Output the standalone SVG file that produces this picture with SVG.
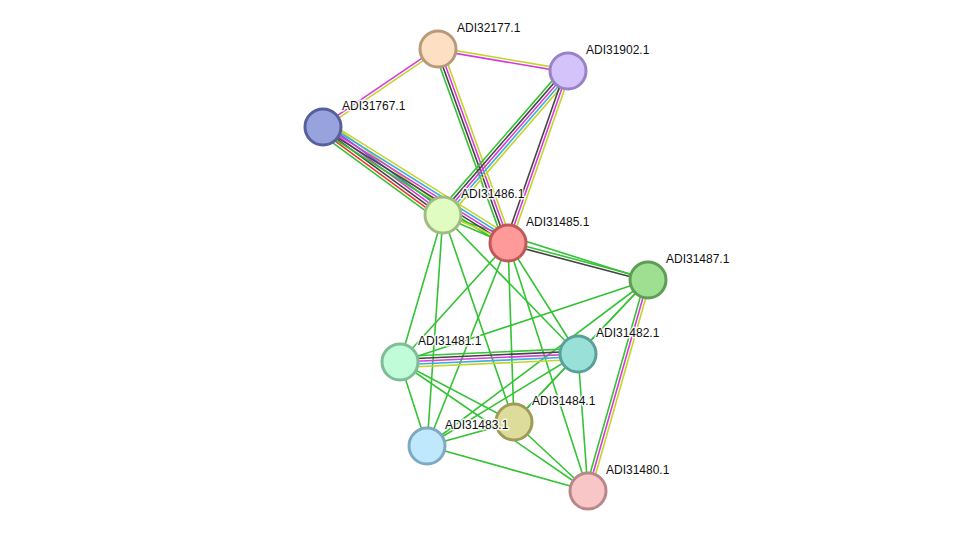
<svg xmlns="http://www.w3.org/2000/svg" width="976" height="537" viewBox="0 0 976 537">
<style>
line{stroke-width:1.6;fill:none;vector-effect:non-scaling-stroke}
.g{stroke:#34c334}.k{stroke:#444}.m{stroke:#d93ad9}.c{stroke:#3bb0e0}.y{stroke:#c5d42a}.r{stroke:#f03434}.b{stroke:#4a72d6}
circle{stroke-width:3}
text{font-family:"Liberation Sans",Arial,sans-serif;font-size:12px;fill:#111;stroke:#fff;stroke-width:3;stroke-opacity:0.85;paint-order:stroke;stroke-linejoin:round}
</style>
<rect width="976" height="537" fill="#fff"/>
<g id="connectors">
<line class="g" x1="443" y1="215" x2="400" y2="362"/>
<line class="g" x1="443" y1="215" x2="427" y2="446"/>
<line class="g" x1="443" y1="215" x2="514" y2="422"/>
<line class="g" x1="443" y1="215" x2="578" y2="354"/>
<line class="g" x1="443" y1="215" x2="648" y2="280"/>
<line class="g" x1="508" y1="243" x2="400" y2="362"/>
<line class="g" x1="508" y1="243" x2="427" y2="446"/>
<line class="g" x1="508" y1="243" x2="514" y2="422"/>
<line class="g" x1="508" y1="243" x2="578" y2="354"/>
<line class="g" x1="508" y1="243" x2="588" y2="491"/>
<line class="g" x1="648" y1="280" x2="400" y2="362"/>
<line class="g" x1="648" y1="280" x2="578" y2="354"/>
<line class="g" x1="648" y1="280" x2="514" y2="422"/>
<line class="g" x1="648" y1="280" x2="427" y2="446"/>
<line class="g" x1="578" y1="354" x2="514" y2="422"/>
<line class="g" x1="578" y1="354" x2="427" y2="446"/>
<line class="g" x1="578" y1="354" x2="588" y2="491"/>
<line class="g" x1="400" y1="362" x2="514" y2="422"/>
<line class="g" x1="400" y1="362" x2="427" y2="446"/>
<line class="g" x1="400" y1="362" x2="588" y2="491"/>
<line class="g" x1="514" y1="422" x2="588" y2="491"/>
<line class="g" x1="427" y1="446" x2="588" y2="491"/>
<line class="g" x1="427" y1="446" x2="514" y2="422"/>
<g transform="translate(323,127) rotate(-34.15) scale(1,1.15)">
<line class="m" x1="0" y1="-1.2" x2="139" y2="-1.2"/>
<line class="y" x1="0" y1="1.2" x2="139" y2="1.2"/>
</g>
<g transform="translate(438,49) rotate(9.6) scale(1,1.15)">
<line class="y" x1="0" y1="-1.2" x2="131.9" y2="-1.2"/>
<line class="m" x1="0" y1="1.2" x2="131.9" y2="1.2"/>
</g>
<g transform="translate(438,49) rotate(70.16) scale(1,1.15)">
<line class="g" x1="0" y1="3.6" x2="206.2" y2="3.6"/>
<line class="k" x1="0" y1="1.2" x2="206.2" y2="1.2"/>
<line class="m" x1="0" y1="-1.2" x2="206.2" y2="-1.2"/>
<line class="y" x1="0" y1="-3.6" x2="206.2" y2="-3.6"/>
</g>
<g transform="translate(568,71) rotate(130.96) scale(1,1.15)">
<line class="g" x1="0" y1="4.8" x2="190.7" y2="4.8"/>
<line class="k" x1="0" y1="2.4" x2="190.7" y2="2.4"/>
<line class="m" x1="0" y1="0" x2="190.7" y2="0"/>
<line class="c" x1="0" y1="-2.4" x2="190.7" y2="-2.4"/>
<line class="y" x1="0" y1="-4.8" x2="190.7" y2="-4.8"/>
</g>
<g transform="translate(568,71) rotate(109.23) scale(1,1.15)">
<line class="k" x1="0" y1="2.4" x2="182.2" y2="2.4"/>
<line class="m" x1="0" y1="0" x2="182.2" y2="0"/>
<line class="y" x1="0" y1="-2.4" x2="182.2" y2="-2.4"/>
</g>
<g transform="translate(323,127) rotate(36.25) scale(1,1.15)">
<line class="g" x1="0" y1="6" x2="148.8" y2="6"/>
<line class="r" x1="0" y1="3.6" x2="148.8" y2="3.6"/>
<line class="k" x1="0" y1="1.2" x2="148.8" y2="1.2"/>
<line class="m" x1="0" y1="-1.2" x2="148.8" y2="-1.2"/>
<line class="b" x1="0" y1="-3.6" x2="148.8" y2="-3.6"/>
<line class="y" x1="0" y1="-6" x2="148.8" y2="-6"/>
</g>
<g transform="translate(323,127) rotate(32.09) scale(1,1.15)">
<line class="g" x1="0" y1="3.6" x2="218.4" y2="3.6"/>
<line class="k" x1="0" y1="1.2" x2="218.4" y2="1.2"/>
<line class="m" x1="0" y1="-1.2" x2="218.4" y2="-1.2"/>
<line class="c" x1="0" y1="-3.6" x2="218.4" y2="-3.6"/>
<line class="y" x1="0" y1="-6" x2="218.4" y2="-6"/>
</g>
<g transform="translate(443,215) rotate(23.3) scale(1,1.15)">
<line class="g" x1="0" y1="1.2" x2="70.8" y2="1.2"/>
<line class="y" x1="0" y1="-1.2" x2="70.8" y2="-1.2"/>
</g>
<g transform="translate(508,243) rotate(14.8) scale(1,1.15)">
<line class="g" x1="0" y1="-1.2" x2="144.8" y2="-1.2"/>
<line class="k" x1="0" y1="1.2" x2="144.8" y2="1.2"/>
</g>
<g transform="translate(648,280) rotate(105.87) scale(1,1.15)">
<line class="g" x1="0" y1="2.4" x2="219.4" y2="2.4"/>
<line class="m" x1="0" y1="0" x2="219.4" y2="0"/>
<line class="y" x1="0" y1="-2.4" x2="219.4" y2="-2.4"/>
</g>
<g transform="translate(400,362) rotate(-2.57) scale(1,1.15)">
<line class="g" x1="0" y1="-4.8" x2="178.2" y2="-4.8"/>
<line class="k" x1="0" y1="-2.4" x2="178.2" y2="-2.4"/>
<line class="m" x1="0" y1="0" x2="178.2" y2="0"/>
<line class="c" x1="0" y1="2.4" x2="178.2" y2="2.4"/>
<line class="y" x1="0" y1="4.8" x2="178.2" y2="4.8"/>
</g>
</g>
<g id="n32177"><circle cx="438" cy="49" r="18" fill="#fde0c4" stroke="#b89a7a"/><text x="457" y="32">ADI32177.1</text></g>
<g id="n31902"><circle cx="568" cy="71" r="18" fill="#d4c3fb" stroke="#9a82c8"/><text x="586" y="54">ADI31902.1</text></g>
<g id="n31767"><circle cx="323" cy="127" r="18" fill="#98a3de" stroke="#56609c"/><text x="342" y="110">ADI31767.1</text></g>
<g id="n31486"><circle cx="443" cy="215" r="18" fill="#e0fcc0" stroke="#a0bc82"/><text x="461" y="198">ADI31486.1</text></g>
<g id="n31485"><circle cx="508" cy="243" r="18" fill="#fe9a9a" stroke="#c05858"/><text x="526" y="226">ADI31485.1</text></g>
<g id="n31487"><circle cx="648" cy="280" r="18" fill="#9edf92" stroke="#5e9e54"/><text x="666" y="263">ADI31487.1</text></g>
<g id="n31481"><circle cx="400" cy="362" r="18" fill="#c0fcd8" stroke="#80bc98"/><text x="418" y="345">ADI31481.1</text></g>
<g id="n31482"><circle cx="578" cy="354" r="18" fill="#98e0d8" stroke="#58a098"/><text x="596" y="337">ADI31482.1</text></g>
<g id="n31484"><circle cx="514" cy="422" r="18" fill="#dedc9a" stroke="#9e9c58"/><text x="532" y="405">ADI31484.1</text></g>
<g id="n31483"><circle cx="427" cy="446" r="18" fill="#c0e8fd" stroke="#80a8c0"/><text x="445" y="429">ADI31483.1</text></g>
<g id="n31480"><circle cx="588" cy="491" r="18" fill="#f8c6c6" stroke="#b88888"/><text x="606" y="474">ADI31480.1</text></g>
</svg>
